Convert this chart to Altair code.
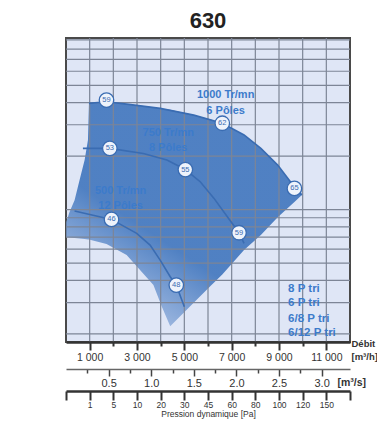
import json
import altair as alt
import pandas as pd

FONT = "Liberation Sans"
BLUE_TXT = "#3c7bcb"
LINE = "#3a6cb2"
DARK = "#333333"
GRID = "#7d8596"

# ---- data (flow in m3/h, total pressure in Pa) ----
zone_q = [10, 149, 362, 574, 787, 928, 970, 1711, 2562, 3694, 4051, 4404, 5396, 6106, 6604, 7523, 8234, 8945, 9651, 9966]
zone_top = [85.1, 96.8, 113.0, 146.6, 190, 246, 396, 404, 392, 376, 369, 365, 340, 321, 306, 263, 221, 178, 134, 121]
zone_bottom = [70.0, 69.7, 69.2, 68.7, 68.3, 68.0, 67.8, 64.0, 55.5, 37.6, 28.4, 22.1, 29.9, 37.2, 43.2, 59.2, 71.9, 90.7, 110.2, 121]

c1000_q = [970, 1711, 2562, 3980, 5400, 6604, 7523, 8234, 8945, 9651, 9966]
c1000_p = [396, 404, 392, 371, 340, 306, 263, 221, 178, 134, 121]
c750_q = [715, 1851, 3268, 4264, 5043, 5681, 6247, 6817, 7311, 7523]
c750_p = [221, 221, 207, 190, 168, 143, 116, 91.1, 74.1, 64.5]
c500_q = [362, 1923, 2987, 3553, 3979, 4404, 4660, 5000]
c500_p = [98.1, 88.1, 73.5, 63.1, 52.0, 41.9, 37.6, 28.4]

mark_q = [1711, 6604, 9651, 1851, 5043, 7311, 1923, 4660]
mark_p = [413, 306, 131.6, 221, 168, 74.1, 88.1, 37.6]
mark_lbl = ["59", "62", "65", "53", "55", "59", "46", "48"]

speed_q = [6745, 6745, 4319, 4319, 2306, 2306]
speed_p = [441, 360, 270, 222, 127, 105]
speed_txt = ["1000 Tr/mn", "6 Pôles", "750 Tr/mn", "8 Pôles", "500 Tr/mn", "12 Pôles"]

legend_txt = ["8 P tri", "6 P tri", "6/8 P tri", "6/12 P tri"]
legend_p = [35.7, 29.8, 24.2, 20.2]
legend_q = [9383, 9383, 9383, 9383]

flow_ticks = [1000, 2000, 3000, 4000, 5000, 6000, 7000, 8000, 9000, 10000, 11000]
ms_ticks = [0.25, 0.5, 0.75, 1.0, 1.25, 1.5, 1.75, 2.0, 2.25, 2.5, 2.75, 3.0]
pd_pos = [0, 1000, 2000, 3000, 4000, 5000, 6000, 7000, 8000, 9000, 10000, 11000, 12000]
pd_labels = ["", "1", "5", "10", "20", "30", "45", "60", "80", "100", "120", "150", ""]
y_ticks = [20, 30, 40, 50, 60, 70, 80, 90, 100, 200, 300, 400, 500, 600, 700, 800, 900]
y_labeled = [20, 40, 60, 80, 100, 200, 400, 600, 800]

x_scale = alt.Scale(domain=[0, 12000], nice=False, zero=False)
y_scale = alt.Scale(type="log", domain=[18, 923], nice=False)

# ---- axes ----
main_x_axis = alt.Axis(
    values=flow_ticks, orient="bottom", grid=False, zindex=1,
    labelExpr="datum.value % 2000 == 1000 ? replace(format(datum.value, ','), ',', ' ') : ''",
    tickSize={"condition": {"test": "datum.value % 2000 == 1000", "value": 8}, "value": 4},
    tickWidth=2, tickColor=DARK, domainColor=DARK, domainWidth=2.5,
    labelFont=FONT, labelFontSize=10.5, labelColor=DARK, labelPadding=2,
    labelOverlap=False, labelFlush=False,
    title=["Débit", "[m³/h]"], titleFont=FONT, titleFontSize=9.5, titleFontWeight="bold",
    titleColor=DARK, titleAlign="left", titleX=285, titleY=-4, titleBaseline="top",
    titleLineHeight=13,
)
y_axis = alt.Axis(
    values=y_ticks, grid=False, zindex=1,
    labelExpr="indexof(" + json.dumps(y_labeled) + ", datum.value) >= 0 ? datum.value : ''",
    tickSize=10, tickWidth=2, tickColor=DARK, domainColor=DARK, domainWidth=2.5,
    labelFont=FONT, labelFontSize=10.5, labelFontWeight="bold", labelColor=BLUE_TXT,
    labelPadding=3, labelOverlap=False,
    title="Pression totale [Pa]", titleFont=FONT, titleFontSize=11, titleFontWeight="bold",
    titleColor=BLUE_TXT, titlePadding=5,
)
ms_axis = alt.Axis(
    values=[int(v * 3600) for v in ms_ticks], orient="bottom", offset=27, grid=False, zindex=1,
    labelExpr="datum.value % 1800 == 0 ? format(datum.value / 3600, '.1f') : ''",
    tickSize={"condition": {"test": "datum.value % 1800 == 0", "value": 7}, "value": 4},
    tickWidth=1.5, tickColor="#444444", domainColor="#666666", domainWidth=1.5,
    labelFont=FONT, labelFontSize=11, labelColor=DARK, labelPadding=1,
    labelOverlap=False, labelFlush=False,
    title="[m³/s]", titleFont=FONT, titleFontSize=10.5, titleFontWeight="bold", titleColor=DARK,
    titleAlign="left", titleX=271, titleY=13, titleBaseline="middle",
)
pd_axis = alt.Axis(
    values=pd_pos, orient="bottom", offset=49, grid=False, zindex=1,
    labelExpr=json.dumps(pd_labels) + "[round(datum.value / 1000)]",
    tickSize=9, tickWidth=2, tickColor=DARK, domainColor=DARK, domainWidth=2.5,
    labelFont=FONT, labelFontSize=8.5, labelColor=DARK, labelPadding=0,
    labelOverlap=False, labelFlush=False,
    title="Pression dynamique [Pa]", titleFont=FONT, titleFontSize=8.5, titleFontWeight="normal",
    titleColor=DARK, titlePadding=1,
)

# ---- layers ----
grid_x = alt.Chart(pd.DataFrame({"q": flow_ticks})).mark_rule(color=GRID, strokeWidth=1.2).encode(
    x=alt.X("q:Q", scale=x_scale, axis=None))
grid_y = alt.Chart(pd.DataFrame({"p": y_ticks})).mark_rule(color=GRID, strokeWidth=1.2).encode(
    y=alt.Y("p:Q", scale=y_scale, axis=None))

gradient = alt.Gradient(
    gradient="linear",
    stops=[alt.GradientStop(color="#4579bf", offset=0),
           alt.GradientStop(color="#4579bf", offset=0.38),
           alt.GradientStop(color="#c6d4ef", offset=1)],
    x1=0.55, y1=0.35, x2=0.1, y2=1.0,
)
zone = pd.DataFrame({"q": zone_q, "top": zone_top, "bottom": zone_bottom})
area = alt.Chart(zone).mark_area(color=gradient, opacity=0.93).encode(
    x=alt.X("q:Q", scale=x_scale, axis=main_x_axis),
    y=alt.Y("top:Q", scale=y_scale, axis=y_axis),
    y2="bottom:Q",
)

curves = pd.concat([
    pd.DataFrame({"q": c1000_q, "p": c1000_p, "rpm": "1000"}),
    pd.DataFrame({"q": c750_q, "p": c750_p, "rpm": "750"}),
    pd.DataFrame({"q": c500_q, "p": c500_p, "rpm": "500"}),
])
lines = alt.Chart(curves).mark_line(color=LINE, strokeWidth=1.6).encode(
    x=alt.X("q:Q", scale=x_scale, axis=None),
    y=alt.Y("p:Q", scale=y_scale, axis=None),
    detail="rpm:N",
)

speeds = alt.Chart(pd.DataFrame({"q": speed_q, "p": speed_p, "t": speed_txt})).mark_text(
    font=FONT, fontSize=11, fontWeight="bold", color=BLUE_TXT, align="center", baseline="middle"
).encode(
    x=alt.X("q:Q", scale=x_scale, axis=None),
    y=alt.Y("p:Q", scale=y_scale, axis=None),
    text="t:N",
)

mk = pd.DataFrame({"q": mark_q, "p": mark_p, "t": mark_lbl})
markers = alt.Chart(mk).mark_point(
    shape="circle", size=210, filled=True, fill="#eef3fb", stroke=LINE, strokeWidth=1.3, opacity=1
).encode(
    x=alt.X("q:Q", scale=x_scale, axis=None),
    y=alt.Y("p:Q", scale=y_scale, axis=None),
)
marker_txt = alt.Chart(mk).mark_text(
    font=FONT, fontSize=7.5, color=LINE, align="center", baseline="middle"
).encode(
    x=alt.X("q:Q", scale=x_scale, axis=None),
    y=alt.Y("p:Q", scale=y_scale, axis=None),
    text="t:N",
)

legend = alt.Chart(pd.DataFrame({"q": legend_q, "p": legend_p, "t": legend_txt})).mark_text(
    font=FONT, fontSize=11.5, fontWeight="bold", color=BLUE_TXT, align="left", baseline="middle"
).encode(
    x=alt.X("q:Q", scale=x_scale, axis=None),
    y=alt.Y("p:Q", scale=y_scale, axis=None),
    text="t:N",
)

ms_layer = alt.Chart(pd.DataFrame({"q": [0, 12000]})).mark_rule(opacity=0).encode(
    x=alt.X("q:Q", scale=x_scale, axis=ms_axis))
pd_layer = alt.Chart(pd.DataFrame({"q": [0, 12000]})).mark_rule(opacity=0).encode(
    x=alt.X("q:Q", scale=x_scale, axis=pd_axis))

chart = alt.layer(
    area, grid_x, grid_y, lines, speeds, markers, marker_txt, legend, ms_layer, pd_layer
).resolve_axis(x="independent").properties(
    width=284, height=304,
    autosize=alt.AutoSizeParams(type="none"),
    padding={"left": 58, "top": 30, "right": 27, "bottom": 78},
    title=alt.TitleParams("630", font=FONT, fontSize=22, fontWeight="bold", color="#222222",
                          offset=4, anchor="middle", frame="group"),
).configure_view(fill="#dfe6f6", stroke="#4a4a4a", strokeWidth=2)

chart.save("out.html", embed_options={"renderer": "svg", "actions": False})
